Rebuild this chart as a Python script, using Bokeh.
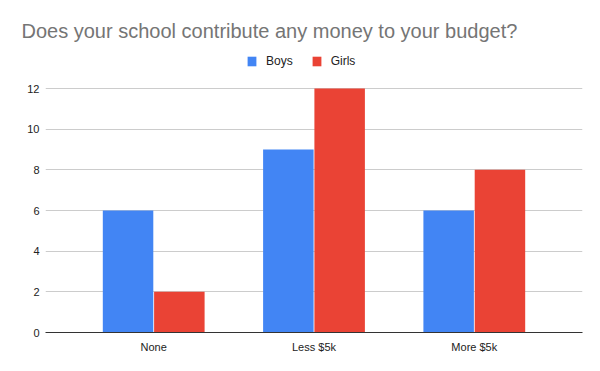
from bokeh.plotting import figure
from bokeh.models import FactorRange, Range1d, FixedTicker, Legend, LegendItem, ColumnDataSource
from bokeh.transform import dodge
from bokeh.embed import file_html
from bokeh.resources import INLINE

categories = ["None", "Less $5k", "More $5k"]
boys = [6, 9, 6]
girls = [2, 12, 8]
y_ticks = [0, 2, 4, 6, 8, 10, 12]
title_text = "Does your school contribute any money to your budget?"

FONT = "Liberation Sans"

src = ColumnDataSource(dict(cat=categories, boys=boys, girls=girls))

p = figure(
    width=600, height=371,
    x_range=FactorRange(factors=categories, range_padding=0.175, range_padding_units="absolute"),
    y_range=Range1d(0, 14.115),
    output_backend="svg", toolbar_location=None,
    min_border_left=45, min_border_right=18, min_border_bottom=39, min_border_top=45,
)
p.outline_line_color = None
p.background_fill_color = "white"
p.border_fill_color = "white"

rb = p.vbar(x=dodge("cat", -0.16, range=p.x_range), top="boys", width=0.315, source=src,
            fill_color="#4285F4", line_color=None)
rg = p.vbar(x=dodge("cat", 0.16, range=p.x_range), top="girls", width=0.315, source=src,
            fill_color="#EA4335", line_color=None)

# axes
p.yaxis.ticker = FixedTicker(ticks=y_ticks)
p.yaxis.axis_line_color = None
p.yaxis.major_tick_line_color = None
p.yaxis.major_tick_out = 0
p.yaxis.major_tick_in = 0
p.yaxis.minor_tick_line_color = None
p.yaxis.major_label_standoff = 6
p.yaxis.major_label_text_font = FONT
p.yaxis.major_label_text_font_size = "11px"
p.yaxis.major_label_text_color = "#222222"

p.xaxis.axis_line_color = "#333333"
p.xaxis.major_tick_line_color = None
p.xaxis.major_tick_out = 0
p.xaxis.major_tick_in = 0
p.xaxis.minor_tick_line_color = None
p.xaxis.major_label_standoff = 8
p.xaxis.major_label_text_font = FONT
p.xaxis.major_label_text_font_size = "11px"
p.xaxis.major_label_text_color = "#222222"

p.ygrid.ticker = FixedTicker(ticks=y_ticks)
p.ygrid.grid_line_color = "#cccccc"
p.xgrid.grid_line_color = None

# title
p.title.text = title_text
p.title.align = "left"
p.title.offset = -24
p.title.standoff = 7
p.title.text_font = FONT
p.title.text_font_size = "20px"
p.title.text_font_style = "normal"
p.title.text_color = "#757575"

legend = Legend(items=[LegendItem(label="Boys", renderers=[rb]), LegendItem(label="Girls", renderers=[rg])],
                location=(201, 264), orientation="horizontal",
                glyph_width=11, glyph_height=12, label_height=12, label_standoff=9, spacing=18,
                padding=0, margin=0, label_text_font=FONT, label_text_font_size="12px",
                label_text_color="#222222", label_text_baseline="middle",
                background_fill_alpha=0, border_line_color=None)
p.add_layout(legend)

open("out.html", "w").write(file_html(p, INLINE))
